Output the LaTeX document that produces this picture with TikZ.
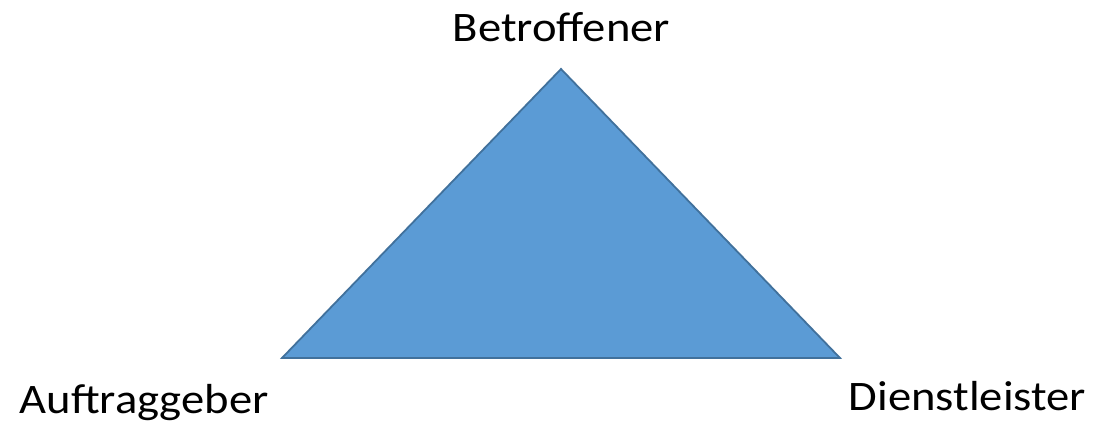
\documentclass[tikz,border=0pt]{standalone}
\usepackage{fontspec}
\setmainfont{Carlito}
\definecolor{trifill}{HTML}{5B9BD5}
\definecolor{tridraw}{HTML}{41719C}
\newcommand{\widetext}[1]{\scalebox{1.11}[1]{#1}}
\begin{document}
\begin{tikzpicture}[x=1pt,y=1pt,
  lbl/.style={font=\fontsize{42}{50}\selectfont, inner sep=0pt, anchor=base}]
\useasboundingbox (0,0) rectangle (1093,424);
\coordinate (apex) at (561,355);
\coordinate (bl) at (282,66);
\coordinate (br) at (840,66);
\draw[fill=trifill, draw=tridraw, line width=1.8pt, line join=miter] (apex) -- (br) -- (bl) -- cycle;
\node[lbl] (top) at (561.5,382) {\widetext{Betroffener}};
\node[lbl] (left) at (144,11) {\widetext{Auftraggeber}};
\node[lbl] (right) at (967.5,14) {\widetext{Dienstleister}};
\end{tikzpicture}
\end{document}
